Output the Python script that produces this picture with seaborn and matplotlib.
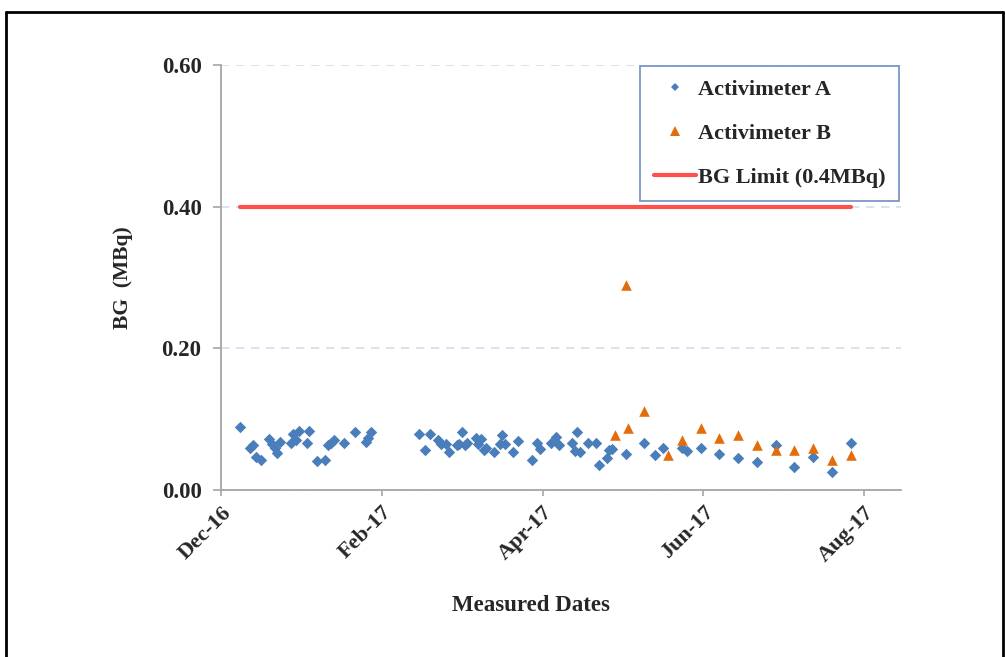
import numpy as np
import pandas as pd
import matplotlib
matplotlib.use("Agg")
import matplotlib.pyplot as plt
import matplotlib.dates as mdates
from matplotlib.lines import Line2D
import seaborn as sns

# ---------------- data ----------------
start_date = "2016-12-05"   # axis origin
# measurement days (days after start_date) and background values (MBq)
days_a = [7, 11, 12, 13, 15, 18, 19, 20, 21, 22, 26, 27, 28, 29, 32, 33, 36, 39, 40, 41,
          42, 46, 50, 54, 55, 56, 74, 76, 78, 81, 82, 84, 85, 88, 89, 90, 91, 92, 95, 96,
          97, 98, 99, 102, 104, 105, 106, 109, 111, 116, 118, 119, 123, 125, 126, 131, 132, 133, 134, 137,
          140, 141, 144, 145, 146, 151, 158, 162, 165, 172, 174, 179, 186, 193, 200, 207, 214, 221, 228, 235]
bg_a = [0.089, 0.060, 0.064, 0.047, 0.043, 0.072, 0.065, 0.059, 0.052, 0.068, 0.067, 0.079, 0.071, 0.084, 0.067, 0.083, 0.041, 0.043, 0.064, 0.067,
        0.071, 0.066, 0.082, 0.068, 0.074, 0.082, 0.079, 0.057, 0.079, 0.071, 0.065, 0.065, 0.053, 0.063, 0.065, 0.082, 0.063, 0.067, 0.073, 0.065,
        0.072, 0.057, 0.059, 0.053, 0.065, 0.077, 0.065, 0.053, 0.069, 0.043, 0.066, 0.058, 0.066, 0.075, 0.064, 0.067, 0.055, 0.082, 0.053, 0.066,
        0.066, 0.036, 0.045, 0.057, 0.058, 0.051, 0.067, 0.049, 0.059, 0.060, 0.055, 0.060, 0.051, 0.045, 0.040, 0.064, 0.033, 0.046, 0.025, 0.066]

days_b = [147, 151, 152, 158, 167, 172, 179, 186, 193, 200, 207, 214, 221, 228, 235]
bg_b = [0.077, 0.289, 0.087, 0.111, 0.050, 0.071, 0.087, 0.074, 0.077, 0.064, 0.057, 0.057, 0.059, 0.042, 0.049]

limit_days = [7, 235]
limit_values = [0.40, 0.40]

tick_days = [0, 60, 120, 180, 240]
tick_labels = ["Dec-16", "Feb-17", "Apr-17", "Jun-17", "Aug-17"]
y_ticks = [0.0, 0.2, 0.4, 0.6]

series_names = ["Activimeter A", "Activimeter B", "BG Limit (0.4MBq)"]

# ---------------- build frames ----------------
base = pd.Timestamp(start_date)
df_a = pd.DataFrame({"date": base + pd.to_timedelta(days_a, unit="D"), "bg": bg_a})
df_b = pd.DataFrame({"date": base + pd.to_timedelta(days_b, unit="D"), "bg": bg_b})
df_l = pd.DataFrame({"date": base + pd.to_timedelta(limit_days, unit="D"), "bg": limit_values})

sns.set_theme(style="white")
plt.rcParams["font.family"] = ["Liberation Serif", "DejaVu Serif"]
plt.rcParams["font.weight"] = "bold"

W, H = 1006, 657
fig = plt.figure(figsize=(W / 100, H / 100), dpi=100)
ax = fig.add_axes([221 / W, 1 - 490 / H, (901 - 221) / W, (490 - 65) / H])

blue = "#4a7ebb"
orange = "#e46c0a"
red = "#ff4f4f"

sns.lineplot(data=df_l, x="date", y="bg", ax=ax, color=red, linewidth=3, zorder=3)
sns.scatterplot(data=df_a, x="date", y="bg", ax=ax, color=blue, marker="D", s=34,
                linewidth=0, zorder=4)
sns.scatterplot(data=df_b, x="date", y="bg", ax=ax, color=orange, marker="^", s=58,
                linewidth=0, zorder=5)

# axes
ax.set_ylim(0, 0.6)
ax.set_yticks(y_ticks)
ax.set_yticklabels([f"{v:.2f}" for v in y_ticks])
ax.set_xlim(base, base + pd.Timedelta(days=253.8))
ax.set_xticks([base + pd.Timedelta(days=d) for d in tick_days])
ax.set_xticklabels(tick_labels, rotation=45, ha="right", rotation_mode="anchor")

ax.yaxis.grid(True, linestyle=(0, (5, 4)), color="#d5dcef", linewidth=1.2)
ax.xaxis.grid(False)
ax.set_axisbelow(True)

for s in ["top", "right"]:
    ax.spines[s].set_visible(False)
for s in ["left", "bottom"]:
    ax.spines[s].set_color("#a6a6a6")
    ax.spines[s].set_linewidth(1.3)

ax.tick_params(axis="y", which="major", direction="out", length=6, width=1.2,
               color="#a6a6a6", labelsize=16.5, pad=8, left=True)
ax.tick_params(axis="x", which="major", direction="out", length=4, width=1.2,
               color="#a6a6a6", labelsize=16, pad=5, bottom=True)
for lab in ax.get_xticklabels() + ax.get_yticklabels():
    lab.set_fontweight("bold")

ax.set_ylabel("BG  (MBq)", fontsize=15.5, fontweight="bold")
ax.set_xlabel("Measured Dates", fontsize=16.5, fontweight="bold")
ax.yaxis.set_label_coords((133 - 221) / (901 - 221), 0.5)
ax.xaxis.set_label_coords((531 - 221) / (901 - 221), -(595 - 490) / (490 - 65))

# legend
handles = [
    Line2D([], [], linestyle="none", marker="D", color=blue, markersize=4.5, markeredgewidth=0),
    Line2D([], [], linestyle="none", marker="^", color=orange, markersize=7, markeredgewidth=0),
    Line2D([], [], color=red, linewidth=3),
]
leg = ax.legend(handles, series_names, loc="upper right",
                bbox_to_anchor=(899 / W, 1 - 66 / H), bbox_transform=fig.transFigure,
                frameon=True, fancybox=False, framealpha=1, edgecolor="#6f8fc0",
                prop={"family": "Liberation Serif", "weight": "bold", "size": 16},
                labelspacing=1.05, handlelength=1.9, handletextpad=0.1,
                borderpad=0.6, borderaxespad=0)
leg.get_frame().set_linewidth(1.2)

# outer frame of the figure
fig.add_artist(Line2D([6 / W, 6 / W], [0, 1 - 12 / H], color="black", linewidth=2,
                      transform=fig.transFigure))
fig.add_artist(Line2D([6 / W, 1003 / W], [1 - 12 / H, 1 - 12 / H], color="black", linewidth=2,
                      transform=fig.transFigure))
fig.add_artist(Line2D([1003 / W, 1003 / W], [0, 1 - 12 / H], color="black", linewidth=2,
                      transform=fig.transFigure))

fig.savefig("out.png", dpi=100)
